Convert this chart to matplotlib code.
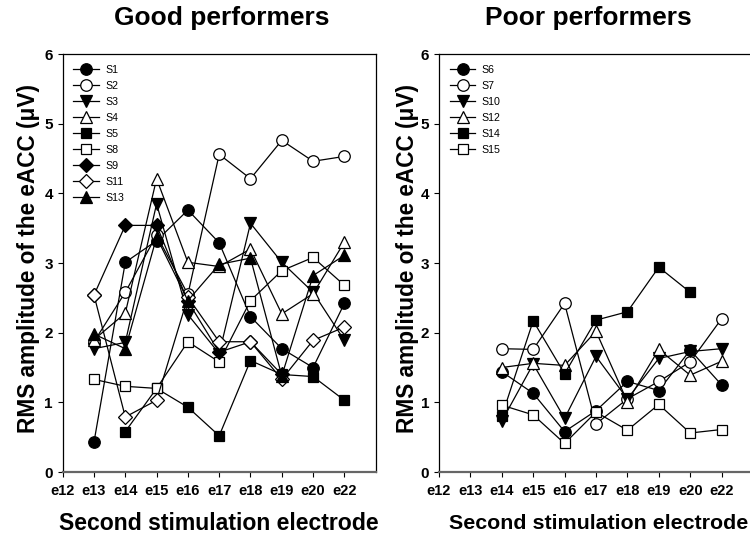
import numpy as np
import matplotlib.pyplot as plt

# electrode categories on the x axis
electrodes = ['e12', 'e13', 'e14', 'e15', 'e16', 'e17', 'e18', 'e19', 'e20', 'e22']

# good performers: RMS amplitude (uV) for e12..e22, None = no data
S1 = [None, 0.43, 3.01, 3.32, 3.76, 3.29, 2.23, 1.77, 1.50, 2.42]
S2 = [None, 1.87, 2.58, 3.40, 2.55, 4.56, 4.21, 4.76, 4.46, 4.53]
S3 = [None, 1.77, 1.86, 3.85, 2.26, 1.70, 3.57, 3.01, 2.58, 1.89]
S4 = [None, 1.90, 2.28, 4.21, 3.01, 2.95, 3.20, 2.27, 2.56, 3.30]
S5 = [None, None, 0.58, 1.20, 0.93, 0.52, 1.60, 1.40, 1.37, 1.03]
S8 = [None, 1.33, 1.23, 1.20, 1.87, 1.58, 2.46, 2.89, 3.08, 2.68]
S9 = [None, 2.54, 3.54, 3.54, 2.45, 1.72, 1.87, 1.40, None, None]
S11 = [None, 2.54, 0.79, 1.03, 2.51, 1.87, 1.87, 1.33, 1.89, 2.08]
S13 = [None, 1.98, 1.77, 3.37, 2.46, 2.98, 3.07, 1.38, 2.82, 3.11]

# poor performers
S6 = [None, None, 1.44, 1.13, 0.58, 0.88, 1.30, 1.17, 1.75, 1.25]
S7 = [None, None, 1.77, 1.76, 2.42, 0.69, 1.05, 1.30, 1.58, 2.20]
S10 = [None, None, 0.73, 1.55, 0.77, 1.66, 1.05, 1.63, 1.73, 1.77]
S12 = [None, None, 1.50, 1.56, 1.53, 2.02, 1.01, 1.76, 1.39, 1.59]
S14 = [None, None, 0.80, 2.17, 1.41, 2.18, 2.30, 2.94, 2.58, None]
S15 = [None, None, 0.96, 0.82, 0.41, 0.86, 0.60, 0.97, 0.56, 0.61]

good = [('S1', S1), ('S2', S2), ('S3', S3), ('S4', S4), ('S5', S5),
        ('S8', S8), ('S9', S9), ('S11', S11), ('S13', S13)]
poor = [('S6', S6), ('S7', S7), ('S10', S10), ('S12', S12), ('S14', S14), ('S15', S15)]

# marker style per series slot: (marker, facecolor, size)
styles = [('o', 'black', 8.3), ('o', 'white', 8.3), ('v', 'black', 8.6),
          ('^', 'white', 8.6), ('s', 'black', 7.2), ('s', 'white', 7.2),
          ('D', 'black', 7.0), ('D', 'white', 7.0), ('^', 'black', 8.6)]

font = ['Liberation Sans', 'DejaVu Sans']

fig = plt.figure(figsize=(7.5, 5.4), dpi=100)
ax1 = fig.add_axes([0.0836, 0.1259, 0.4173, 0.7741])
ax2 = fig.add_axes([0.5853, 0.1259, 0.4187, 0.7741])

x = np.arange(len(electrodes))


def draw(ax, series, title, title_x, xlabel_size):
    for (name, vals), (m, fc, ms) in zip(series, styles):
        y = np.array([np.nan if v is None else v for v in vals], dtype=float)
        ax.plot(x, y, color='black', lw=0.9, marker=m, markersize=ms,
                markerfacecolor=fc, markeredgecolor='black', markeredgewidth=0.9,
                label=name)
    ax.set_xlim(0, 10)
    ax.set_ylim(0, 6)
    ax.set_xticks(x)
    ax.set_xticklabels(electrodes, family=font, weight='bold', fontsize=10.5)
    ax.set_yticks(range(7))
    ax.set_yticklabels([str(i) for i in range(7)], family=font, weight='bold', fontsize=11)
    ax.tick_params(direction='out', length=3.5, width=0.8, pad=3.6)
    ax.tick_params(axis='x', pad=4.8)
    for s in ['left', 'top', 'right']:
        ax.spines[s].set_linewidth(0.9)
    ax.spines['bottom'].set_color('#666666')
    ax.spines['bottom'].set_linewidth(1.6)
    ax.set_xlabel('Second stimulation electrode', family=font, weight='bold',
                  fontsize=xlabel_size, va='center')
    ax.set_ylabel('RMS amplitude of the eACC (\u03bcV)', family=font, weight='bold',
                  fontsize=16.3, va='center')
    ax.legend(loc='upper left', bbox_to_anchor=(0.0, 1.0), frameon=False,
              prop={'family': font, 'size': 7.7}, labelspacing=0.56,
              handlelength=2.4, handletextpad=0.6, borderaxespad=0.6)
    fig.text(title_x, 1 - 18 / 540, title, family=font, weight='bold',
             fontsize=19, ha='center', va='center')


draw(ax1, good, 'Good performers', 222 / 750, 16.6)
draw(ax2, poor, 'Poor performers', 588 / 750, 15.4)
ax1.yaxis.set_label_coords(-0.108, 0.51)
ax2.yaxis.set_label_coords(-0.099, 0.51)
ax1.xaxis.set_label_coords(0.5, -0.124)
ax2.xaxis.set_label_coords((599 - 439) / 314, -0.124)

plt.savefig('out.png', dpi=100)
